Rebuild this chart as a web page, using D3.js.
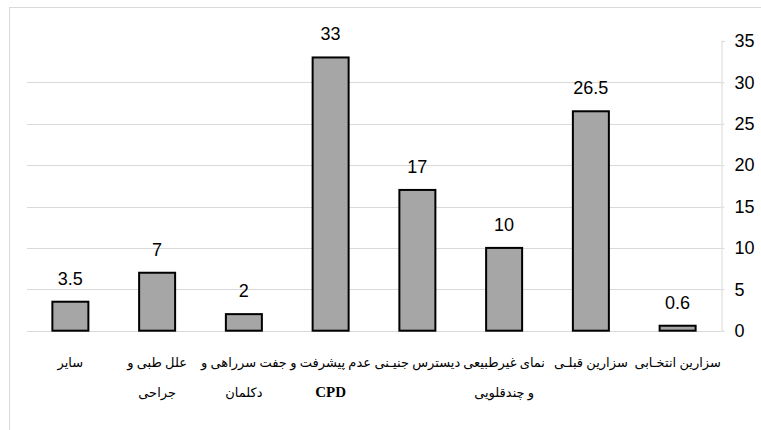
<!DOCTYPE html>
<html>
<head>
<meta charset="utf-8">
<script src="https://cdn.jsdelivr.net/npm/d3@7"></script>
<style>
  body { margin: 0; background: #fff; }
  svg { display: block; }
</style>
</head>
<body>
<div id="chart"></div>
<script>
// categories, left to right, each label split in lines
const categories = ["c1", "c2", "c3", "c4", "c5", "c6", "c7", "c8"];
const labelLines = [
  ["سایر"],
  ["علل طبی و", "جراحی"],
  ["جفت سرراهی و", "دکلمان"],
  ["عدم پیشرفت و", "CPD"],
  ["دیسترس جنیـنی"],
  ["نمای غیرطبیعی", "و چندقلویی"],
  ["سزارین قبلـی"],
  ["سزارین انتخـابی"]
];
const values = [3.5, 7, 2, 33, 17, 10, 26.5, 0.6];
const valueLabels = ["3.5", "7", "2", "33", "17", "10", "26.5", "0.6"];
const yTicks = [0, 5, 10, 15, 20, 25, 30, 35];

const width = 761, height = 430;
const plotLeft = 27, plotRight = 721, plotTop = 40.9, plotBottom = 330.7;

const svg = d3.select("#chart").append("svg")
  .attr("width", width)
  .attr("height", height);

// outer frame of the chart area
svg.append("rect")
  .attr("x", 9.5).attr("y", 7.5)
  .attr("width", 800).attr("height", 500)
  .attr("fill", "none")
  .attr("stroke", "#d9d9d9")
  .attr("stroke-width", 1);

const x = d3.scaleBand()
  .domain(categories)
  .range([plotLeft, plotRight])
  .paddingInner(0.585)
  .paddingOuter(0.2925);

const y = d3.scaleLinear()
  .domain([0, 35])
  .range([plotBottom, plotTop]);

// gridlines
svg.append("g")
  .selectAll("line")
  .data(yTicks.filter(t => t < 35))
  .enter()
  .append("line")
  .attr("x1", plotLeft)
  .attr("x2", plotRight)
  .attr("y1", d => Math.round(y(d)) + 0.5)
  .attr("y2", d => Math.round(y(d)) + 0.5)
  .attr("stroke", "#d9d9d9")
  .attr("stroke-width", 1);

// right axis
const axis = svg.append("g")
  .attr("transform", `translate(${Math.round(plotRight) + 0.5},0)`)
  .call(d3.axisRight(y).tickValues(yTicks).tickSize(3).tickPadding(10).tickFormat(d3.format("d")));
axis.select(".domain").attr("stroke", "#d9d9d9");
axis.selectAll(".tick line").attr("stroke", "#d9d9d9");
axis.selectAll(".tick text")
  .attr("fill", "#000")
  .style("font-family", "'Liberation Sans', Arial, sans-serif")
  .style("font-size", "18px");

// bars
svg.append("g")
  .selectAll("rect")
  .data(values)
  .enter()
  .append("rect")
  .attr("x", (d, i) => x(categories[i]))
  .attr("y", d => y(d))
  .attr("width", x.bandwidth())
  .attr("height", d => y(0) - y(d))
  .attr("fill", "#a6a6a6")
  .attr("stroke", "#000")
  .attr("stroke-width", 2);

// value labels
svg.append("g")
  .selectAll("text")
  .data(values)
  .enter()
  .append("text")
  .attr("x", (d, i) => x(categories[i]) + x.bandwidth() / 2)
  .attr("y", d => y(d) - 17)
  .attr("text-anchor", "middle")
  .style("font-family", "'Liberation Sans', Arial, sans-serif")
  .style("font-size", "18px")
  .text((d, i) => valueLabels[i]);

// category labels
const catG = svg.append("g")
  .selectAll("text")
  .data(labelLines)
  .enter()
  .append("text")
  .attr("x", (d, i) => x(categories[i]) + x.bandwidth() / 2)
  .attr("y", 367)
  .attr("text-anchor", "middle")
  .style("font-family", "'Liberation Serif', 'DejaVu Sans', serif")
  .style("font-size", "13px");

catG.selectAll("tspan")
  .data(d => d)
  .enter()
  .append("tspan")
  .attr("x", function () { return d3.select(this.parentNode).attr("x"); })
  .attr("dy", (d, i) => i === 0 ? 0 : 30)
  .attr("direction", d => /[A-Za-z]/.test(d) ? "ltr" : "rtl")
  .style("font-weight", d => /[A-Za-z]/.test(d) ? "bold" : "normal")
  .style("font-size", d => /[A-Za-z]/.test(d) ? "15px" : "13px")
  .text(d => d);
</script>
</body>
</html>
